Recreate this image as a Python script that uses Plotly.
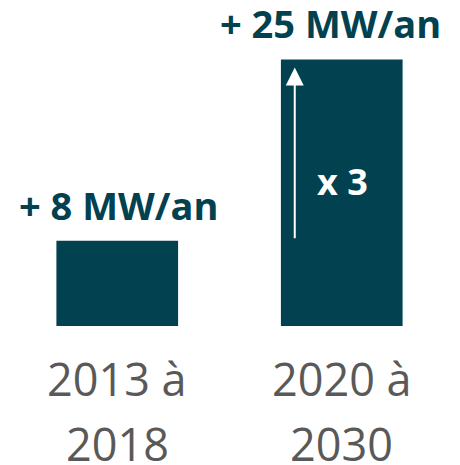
import plotly.graph_objects as go

categories = ["2013 à 2018", "2020 à 2030"]
label_lines = [["2013 à", "2018"], ["2020 à", "2030"]]
values = [8, 25]
value_labels = ["+ 8 MW/an", "+ 25 MW/an"]
ratio_label = "x 3"

BAR = "#02414F"
GRAY = "#595959"
FONT = "Open Sans"

fig = go.Figure()
fig.add_trace(go.Bar(x=categories, y=values, marker=dict(color=BAR, line=dict(width=0)),
                     width=0.542, hoverinfo="skip"))

# value labels above bars
xshifts = [1.5, -11]
for c, v, t, xs in zip(categories, values, value_labels, xshifts):
    fig.add_annotation(x=c, y=v, text=t, showarrow=False, xref="x", yref="y",
                       yanchor="bottom", yshift=8, xshift=xs,
                       font=dict(family=FONT, size=38, color=BAR, weight="bold"))

# category labels (two lines each)
for c, lines in zip(categories, label_lines):
    for i, ln in enumerate(lines):
        fig.add_annotation(x=c, y=0, text=ln, showarrow=False, xref="x", yref="y",
                           yanchor="top", yshift=-20 - 65 * i,
                           font=dict(family=FONT, size=45, color=GRAY))

# growth arrow inside the second bar
fig.add_annotation(x=categories[1], y=values[1], ax=categories[1], ay=values[0],
                   xref="x", yref="y", axref="x", ayref="y", xshift=-47,
                   showarrow=True, arrowhead=2, arrowsize=1.8, arrowwidth=2,
                   arrowcolor="white", standoff=8, startstandoff=1, text="")
fig.add_annotation(x=categories[1], y=(values[0] + values[1]) / 2, text=ratio_label,
                   showarrow=False, xref="x", yref="y", xshift=1, yshift=-31,
                   font=dict(family=FONT, size=36, color="white", weight="bold"))

fig.update_layout(
    width=460, height=465,
    margin=dict(l=4.5, r=5.5, t=0, b=138.5),
    paper_bgcolor="white", plot_bgcolor="white",
    showlegend=False,
    xaxis=dict(showticklabels=False, showgrid=False, zeroline=False, showline=False,
               range=[-0.5, 1.5], fixedrange=True),
    yaxis=dict(visible=False, range=[0, 30.57], fixedrange=True),
)

fig.write_html("out.html", config={"displayModeBar": False},
               post_script="document.body.style.margin='0';")
